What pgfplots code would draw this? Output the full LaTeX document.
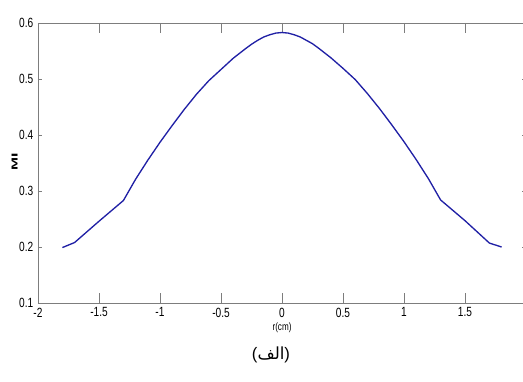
\documentclass[border=0pt]{standalone}
\usepackage{fontspec}
\setmainfont{Liberation Sans}
\newfontfamily\narrowfont[FakeStretch=0.76]{Liberation Sans}
\newfontfamily\arabicfont[Script=Arabic]{DejaVu Sans}
\TeXXeTstate=1
\usepackage{pgfplots}
\pgfplotsset{compat=1.18}
\definecolor{curveblue}{RGB}{32,32,165}
\definecolor{framegray}{RGB}{125,125,125}

\pgfplotstableread{
r     mi
-1.8  0.199
-1.7  0.208
-1.5  0.246
-1.3  0.283
-1.25 0.302
-1.2  0.321
-1.1  0.355
-1.0  0.387
-0.9  0.417
-0.8  0.446
-0.7  0.473
-0.6  0.497
-0.5  0.517
-0.4  0.537
-0.3  0.554
-0.25 0.562
-0.2  0.569
-0.15 0.575
-0.1  0.579
-0.05 0.582
0.0   0.583
0.05  0.582
0.1   0.579
0.15  0.575
0.2   0.569
0.25  0.563
0.3   0.555
0.4   0.538
0.5   0.519
0.6   0.499
0.7   0.474
0.8   0.447
0.9   0.418
1.0   0.388
1.1   0.356
1.2   0.322
1.25  0.303
1.3   0.284
1.5   0.247
1.7   0.207
1.8   0.200
}\miprofile

\pgfplotsset{
  frame/.style={
    at={(0,0)}, anchor=south west,
    scale only axis, width=366pt, height=210pt,
    xmin=-2, xmax=2, ymin=0.1, ymax=0.6,
    axis line style={framegray, line width=0.6pt},
    major tick style={framegray, line width=0.5pt},
    tick align=inside,
    tick label style={font=\narrowfont\fontsize{10}{11}\selectfont, text=black},
  }
}

\begin{document}
\begin{tikzpicture}[x=1pt,y=1pt]
% horizontal ticks (long)
\begin{axis}[frame,
  ytick=\empty,
  xtick={-2,-1.5,...,1.5},
  xticklabels={-2,-1.5,-1,-0.5,0,0.5,1,1.5},
  extra x ticks={2}, extra x tick labels={},
  major tick length=7.5pt,
  xlabel={r(cm)},
  xlabel style={font=\narrowfont\fontsize{8}{9}\selectfont, yshift=3pt},
]
\end{axis}
% vertical ticks (short) and the profile
\begin{axis}[frame,
  xtick=\empty,
  ytick={0.1,0.2,...,0.6},
  yticklabels={0.1,0.2,0.3,0.4,0.5,0.6},
  major tick length=3pt,
]
\addplot[curveblue, line width=1pt, line join=round] table[x=r, y=mi] {\miprofile};
\end{axis}
\node[rotate=90] at (-17.6,105.75) {\scalebox{1.8}[1]{\fontsize{6.5}{7}\selectfont\bfseries MI}};
\node[font=\fontsize{12.5}{14}\selectfont] at (174.75,-39) {({\arabicfont\beginR الف\endR})};
\pgfresetboundingbox
\path[use as bounding box] (-28.5,-58.5) rectangle (363.75,227.25);
\end{tikzpicture}
\end{document}
